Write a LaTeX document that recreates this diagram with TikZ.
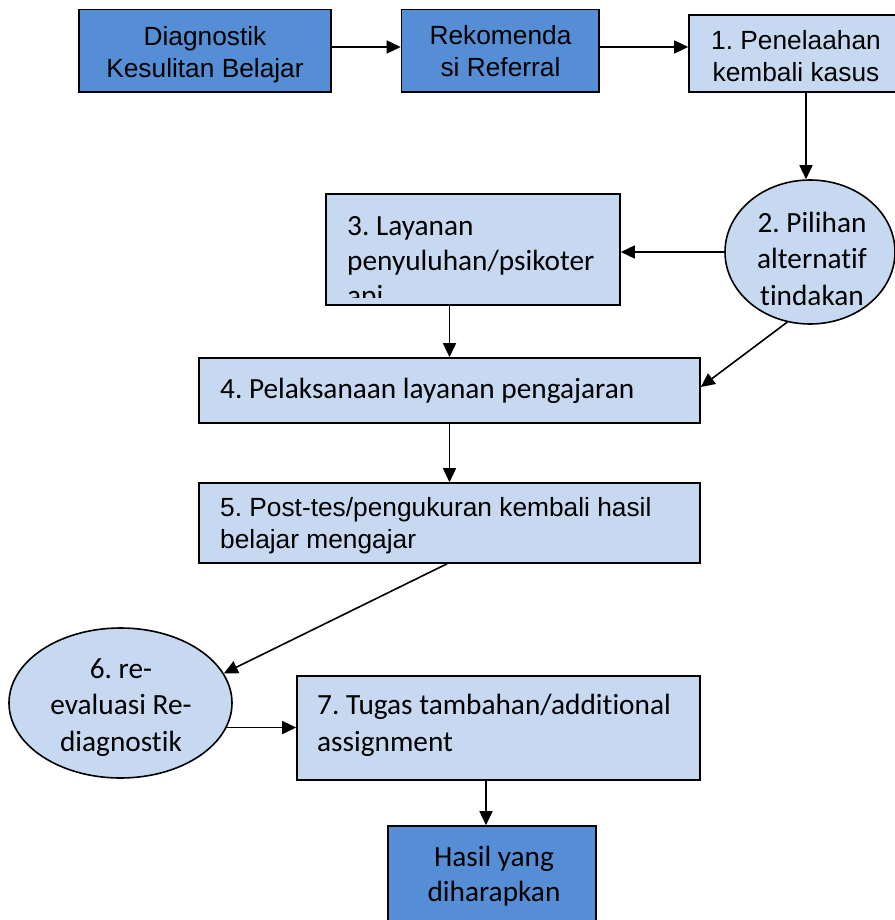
\documentclass[tikz,border=0pt]{standalone}
\usepackage{fontspec}
\setmainfont{Carlito}[Ligatures={NoCommon,NoContextual}]
\newfontfamily\arialf{Liberation Sans}
\usetikzlibrary{arrows.meta,shapes.geometric}
\definecolor{dblue}{HTML}{558ED5}
\definecolor{lblue}{HTML}{C6D9F1}
\frenchspacing
\begin{document}
\begin{tikzpicture}[x=1pt,y=-1pt,
  box/.style={draw=black, line width=1.6pt, rectangle, inner sep=0pt},
  dark/.style={box, fill=dblue},
  light/.style={box, fill=lblue},
  ell/.style={ellipse, draw=black, line width=1.6pt, fill=lblue, inner sep=0pt},
  txt/.style={inner sep=0pt, text=black},
  afont/.style={font=\arialf\frenchspacing\fontsize{26.3}{32}\selectfont},
  cfont/.style={font=\frenchspacing\fontsize{29.3}{#1}\selectfont},
  arr/.style={line width=1.6pt, -{Triangle[length=14pt,width=13pt]}}]
\useasboundingbox (0,0) rectangle (894,920);
\fill[white] (0,0) rectangle (894,920);

% top row
\node[dark, minimum width=252pt, minimum height=82.5pt] (bD) at (205,50.75) {};
\node[txt, afont, align=center] (tD) at (205,55.6) {\strut Diagnostik\\\strut Kesulitan Belajar};
\node[dark, minimum width=197.5pt, minimum height=82.5pt] (bR) at (500.25,50.75) {};
\node[txt, afont, align=center] (tR) at (500.5,54.6) {\strut Rekomenda\\\strut si Referral};
\node[light, minimum width=211pt, minimum height=77pt] (b1) at (794.5,53.5) {};
\node[txt, afont, align=center] (t1) at (796,59.6) {\strut 1. Penelaahan\\\strut kembali kasus};

% ellipse 2
\node[ell, minimum width=170pt, minimum height=144pt] (e2) at (810,252) {};
\node[txt, cfont=36.5, align=center] (t2) at (812,261.5) {\strut 2. Pilihan\\\strut alternatif\\\strut tindakan};

% box 3 (clipped text)
\node[light, minimum width=294pt, minimum height=111pt] (b3) at (473,249.5) {};
\begin{scope}
\clip (326,194) rectangle (620,297.5);
\node[txt, cfont=35, align=left, anchor=west] (t3) at (347,263.5) {\strut 3. Layanan\\\strut penyuluhan/psikoter\\\strut api};
\end{scope}

% box 4
\node[light, minimum width=501pt, minimum height=65pt] (b4) at (449.5,390.5) {};
\node[txt, cfont=36, anchor=west] (t4) at (220,391) {\strut 4. Pelaksanaan layanan pengajaran};

% box 5
\node[light, minimum width=501pt, minimum height=80pt] (b5) at (449.5,523) {};
\node[txt, afont, align=left, anchor=west] (t5) at (220,525.6) {\strut 5. Post-tes/pengukuran kembali hasil\\\strut belajar mengajar};

% ellipse 6
\node[ell, minimum width=223pt, minimum height=150pt] (e6) at (120.5,703) {};
\node[txt, cfont=36.5, align=center] (t6) at (121,707.5) {\strut 6. re-\\\strut evaluasi Re-\\\strut diagnostik};

% box 7
\node[light, minimum width=403pt, minimum height=104pt] (b7) at (498.5,728) {};
\node[txt, cfont=37, align=left, anchor=west] (t7) at (317,725.5) {\strut 7. Tugas tambahan/additional\\\strut assignment};

% box H
\node[dark, minimum width=208pt, minimum height=100pt] (bH) at (492,876) {};
\node[txt, cfont=35, align=center] (tH) at (494,876.5) {\strut Hasil yang\\\strut diharapkan};

% connectors
\draw[arr] ([yshift=3.75pt]bD.east) -- ([yshift=3.75pt]bR.west);
\draw[arr] ([yshift=3.75pt]bR.east) -- ([yshift=3.75pt]bR.east -| b1.west);
\draw[arr] ([xshift=-4pt]b1.south -| e2.north) -- ([xshift=-4pt]e2.north);
\draw[arr] (e2.west) -- (e2.west -| b3.east);
\draw[arr] (b3.south -| b4.north) -- (b4.north);
\draw[arr] (e2.252) -- ([yshift=3.5pt]b4.east);
\draw[arr] (b4.south) -- (b5.north);
\draw[arr] ([xshift=-2.5pt]b5.south) -- (e6.16);
\draw[arr] (e6.-13) -- (e6.-13 -| b7.west);
\draw[arr] ([xshift=-6pt]bH.north |- b7.south) -- ([xshift=-6pt]bH.north);
\end{tikzpicture}
\end{document}
